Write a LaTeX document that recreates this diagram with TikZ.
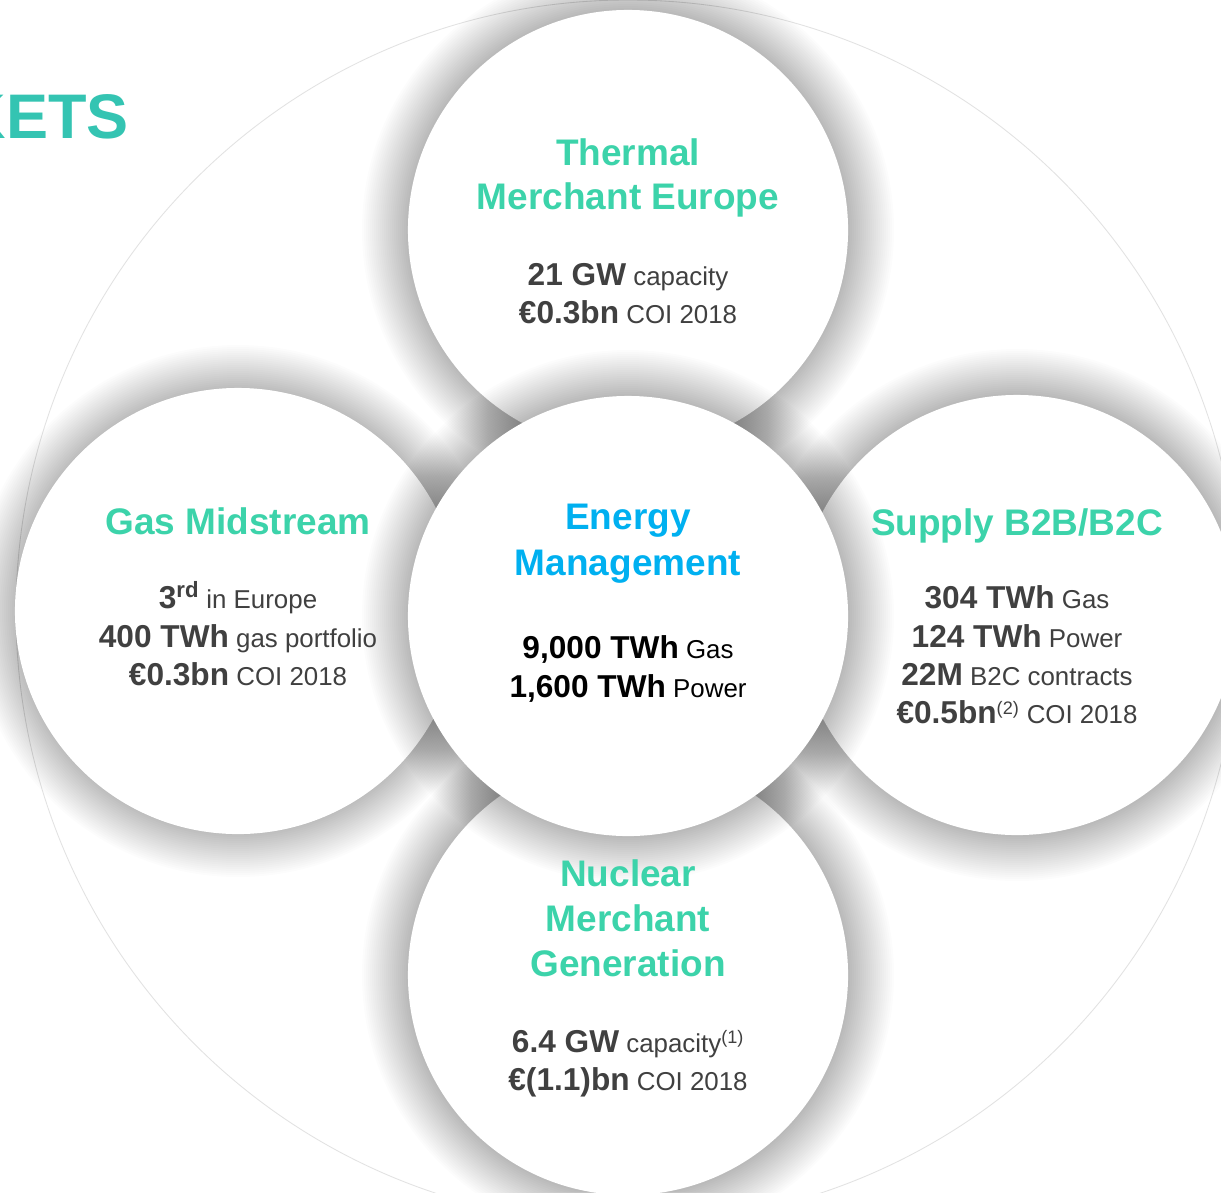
\documentclass[tikz,border=0pt]{standalone}
\usepackage{fontspec}
\setmainfont{Liberation Sans}
\usetikzlibrary{calc}

\definecolor{segteal}{HTML}{3CD3AA}
\definecolor{titleteal}{HTML}{34C4B2}
\definecolor{mgmtblue}{HTML}{00B0F0}
\definecolor{factgrey}{HTML}{404040}
\definecolor{ringgrey}{HTML}{E2E2E2}

% bold figure at the start of each fact line
\newcommand{\amount}[1]{{\fontsize{22.5}{27}\selectfont\bfseries #1}}
% soft grey halo under a segment: nested faint disks
\newcommand{\halo}[1]{%
  \foreach \r in {222,224,...,266}{\fill[black, fill opacity=0.012] (#1) circle[radius=\r];}}

\tikzset{
  segment/.style={circle, fill=white, minimum size=11cm, inner sep=0pt},
  headline/.style={anchor=base, inner sep=0pt, text=segteal,
    font=\fontsize{26.3}{31}\selectfont\bfseries},
  fact/.style={anchor=base, inner sep=0pt, text=factgrey,
    font=\fontsize{18.4}{22}\selectfont},
}

\begin{document}
\begin{tikzpicture}[x=0.025cm, y=-0.025cm]
\useasboundingbox (0,0) rectangle (1221,1192);
\clip (0,0) rectangle (1221,1192);
\fill[white] (0,0) rectangle (1221,1192);

\node[anchor=base east, inner sep=0pt, text=titleteal,
  font=\fontsize{44.8}{50}\selectfont\bfseries] (heading) at (129,138) {KETS};

% outer ring
\draw[ringgrey, line width=0.6pt] (628,612) circle[radius=612];

% the four businesses round the hub, hub last
\halo{628,230}
\node[segment] (thermal) at (628,230) {};
\halo{238,611}
\node[segment, minimum size=11.15cm] (gas) at (238,611) {};
\halo{1017,615}
\node[segment] (supply) at (1017,615) {};
\halo{628,975}
\node[segment] (nuclear) at (628,975) {};
\halo{628,616}
\node[segment] (energy) at (628,616) {};

% Thermal Merchant Europe
\node[headline] (thermal-t1) at (628,165) {Thermal};
\node[headline] (thermal-t2) at (628,209) {Merchant Europe};
\node[fact] (thermal-f1) at (628,285) {\amount{21 GW} capacity};
\node[fact] (thermal-f2) at (628,323) {\amount{€0.3bn} COI 2018};

% Gas Midstream
\node[headline] (gas-t1) at (238,534) {Gas Midstream};
\node[fact] (gas-f1) at (238,608) {\amount{3\textsuperscript{rd}} in Europe};
\node[fact] (gas-f2) at (238,647) {\amount{400 TWh} gas portfolio};
\node[fact] (gas-f3) at (238,685) {\amount{€0.3bn} COI 2018};

% Energy Management
\node[headline, text=mgmtblue] (energy-t1) at (628,529) {Energy};
\node[headline, text=mgmtblue] (energy-t2) at (628,575) {Management};
\node[fact, text=black] (energy-f1) at (628,658) {\amount{9,000 TWh} Gas};
\node[fact, text=black] (energy-f2) at (628,697) {\amount{1,600 TWh} Power};

% Supply B2B/B2C
\node[headline] (supply-t1) at (1017,535) {Supply B2B/B2C};
\node[fact] (supply-f1) at (1017,608) {\amount{304 TWh} Gas};
\node[fact] (supply-f2) at (1017,647) {\amount{124 TWh} Power};
\node[fact] (supply-f3) at (1017,685) {\amount{22M} B2C contracts};
\node[fact] (supply-f4) at (1017,723) {\amount{€0.5bn}\textsuperscript{(2)} COI 2018};

% Nuclear Merchant Generation
\node[headline] (nuclear-t1) at (628,886) {Nuclear};
\node[headline] (nuclear-t2) at (628,931) {Merchant};
\node[headline] (nuclear-t3) at (628,976) {Generation};
\node[fact] (nuclear-f1) at (628,1052) {\amount{6.4 GW} capacity\textsuperscript{(1)}};
\node[fact] (nuclear-f2) at (628,1090) {\amount{€(1.1)bn} COI 2018};
\end{tikzpicture}
\end{document}
